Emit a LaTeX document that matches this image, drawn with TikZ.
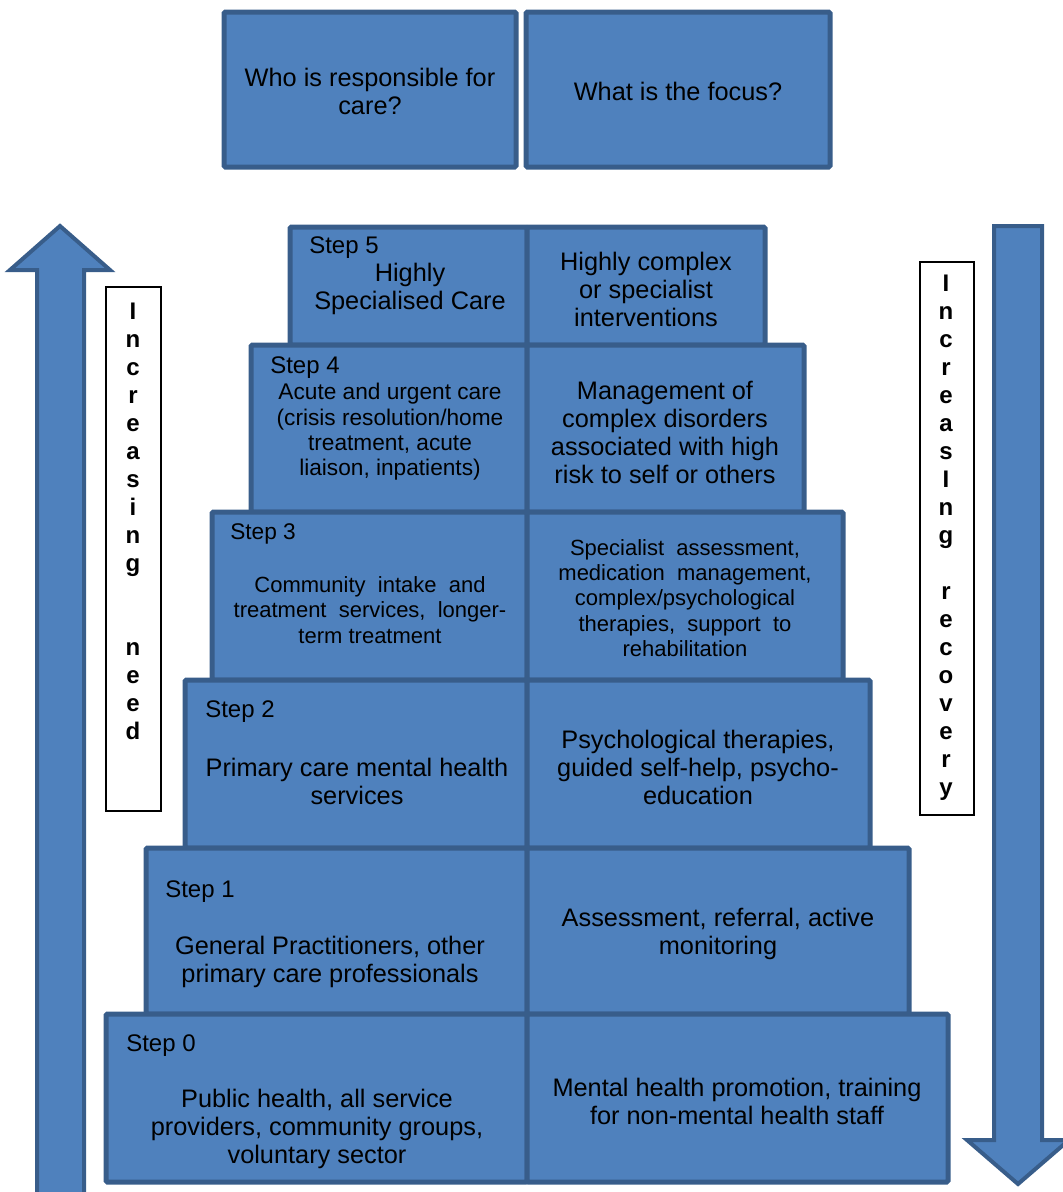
\documentclass[tikz,border=0pt]{standalone}
\usepackage{fontspec}
\setmainfont{Liberation Sans}
\definecolor{boxfill}{HTML}{4F81BD}
\definecolor{boxline}{HTML}{385D8A}
\tikzset{
  blk/.style={draw=boxline, fill=boxfill, line width=3.75pt, rounded corners=1pt},
  arr/.style={draw=boxline, fill=boxfill, line width=3pt, line join=miter},
  txt/.style={align=center, inner sep=0pt, font=\fontsize{19}{21}\selectfont},
  midtxt/.style={align=center, inner sep=0pt, font=\fontsize{17}{19}\selectfont},
  smalltxt/.style={align=center, inner sep=0pt, font=\fontsize{16.5}{19}\selectfont},
  steptag/.style={anchor=west, inner sep=0pt, font=\fontsize{18}{20}\selectfont},
  sidebox/.style={draw=black, fill=white, line width=1.5pt},
  sidetxt/.style={align=center, inner sep=0pt, font=\bfseries\fontsize{18}{21}\selectfont}
}
\begin{document}
\begin{tikzpicture}[x=0.75pt,y=-0.75pt]
\useasboundingbox (0,0) rectangle (1063,1192);
\clip (0,0) rectangle (1063,1192);

% headings
\draw[blk] (224,12) rectangle (516,167);
\draw[blk] (526,12) rectangle (830,167);
\node[txt] (who) at (370,91) {Who is responsible for\\care?};
\node[txt] (what) at (678,91) {What is the focus?};

% side arrows
\draw[arr] (37,1200) -- (37,270) -- (10,270) -- (60,226) -- (110,270) -- (84,270) -- (84,1200) -- cycle;
\draw[arr] (994,226) -- (1042,226) -- (1042,1140) -- (1069,1140) -- (1018,1184) -- (967,1140) -- (994,1140) -- cycle;

% step 5
\draw[blk] (290,227) rectangle (527,345);
\draw[blk] (527,227) rectangle (765,345);
\node[steptag] (tag5) at (309,248) {Step 5};
\node[txt] (who5) at (410,289) {Highly\\Specialised Care};
\node[txt] (what5) at (646,289) {Highly complex\\or specialist\\interventions};

% step 4
\draw[blk] (251,345) rectangle (527,512);
\draw[blk] (527,345) rectangle (804,512);
\node[steptag] (tag4) at (270,368) {Step 4};
\node[midtxt] (who4) at (390,432) {Acute and urgent care\\(crisis resolution/home\\treatment, acute\\liaison, inpatients)};
\node[txt] (what4) at (665,432) {Management of\\complex disorders\\associated with high\\risk to self or others};

% step 3
\draw[blk] (212,512) rectangle (527,680);
\draw[blk] (527,512) rectangle (843,680);
\node[steptag, font=\fontsize{17}{19}\selectfont] (tag3) at (230,534) {Step 3};
\node[smalltxt] (who3) at (370,610) {Community\ \ intake\ \ and\\treatment\ \ services,\ \ longer-\\term treatment};
\node[smalltxt] (what3) at (685,598) {Specialist\ \ assessment,\\medication\ \ management,\\complex/psychological\\therapies,\ \ support\ \ to\\rehabilitation};

% step 2
\draw[blk] (185,680) rectangle (527,848);
\draw[blk] (527,680) rectangle (870,848);
\node[steptag] (tag2) at (205,712) {Step 2};
\node[txt] (who2) at (357,781) {Primary care mental health\\services};
\node[txt] (what2) at (698,767) {Psychological therapies,\\guided self-help, psycho-\\education};

% step 1
\draw[blk] (146,848) rectangle (527,1014);
\draw[blk] (527,848) rectangle (909,1014);
\node[steptag] (tag1) at (165,892) {Step 1};
\node[txt] (who1) at (330,962) {General Practitioners, other\\primary care professionals};
\node[txt] (what1) at (718,934) {Assessment, referral, active\\monitoring};

% step 0
\draw[blk] (106,1014) rectangle (527,1182);
\draw[blk] (527,1014) rectangle (948,1182);
\node[steptag] (tag0) at (126,1046) {Step 0};
\node[txt] (who0) at (317,1129) {Public health, all service\\providers, community groups,\\voluntary sector};
\node[txt] (what0) at (737,1101) {Mental health promotion, training\\for non-mental health staff};

% side labels
\draw[sidebox] (106,287) rectangle (161,811);
\node[sidetxt] (need) at (133,521) {I\\n\\c\\r\\e\\a\\s\\i\\n\\g\\\mbox{}\\\mbox{}\\n\\e\\e\\d};
\draw[sidebox] (920,262) rectangle (974,815);
\node[sidetxt] (recovery) at (946,538) {I\\n\\c\\r\\e\\a\\s\\I\\n\\g\\\mbox{}\\r\\e\\c\\o\\v\\e\\r\\y};
\end{tikzpicture}
\end{document}
